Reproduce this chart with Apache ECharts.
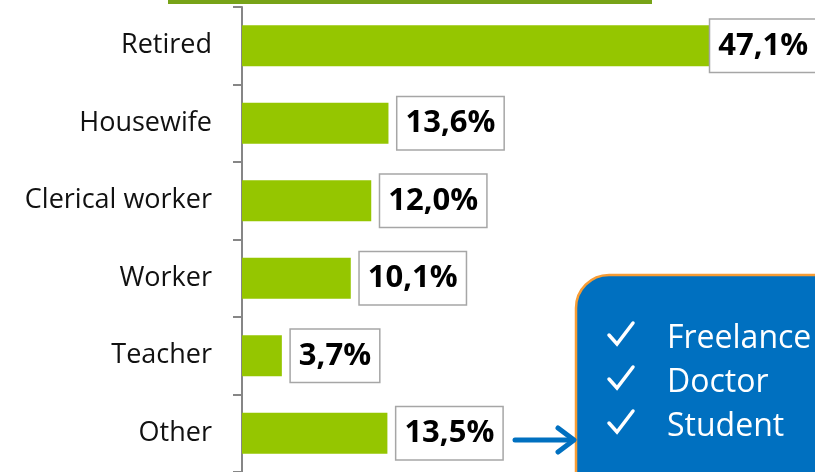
<!DOCTYPE html>
<html>
<head>
<meta charset="utf-8">
<script src="https://cdn.jsdelivr.net/npm/echarts@6/dist/echarts.min.js"></script>
<style>
  html, body { margin: 0; padding: 0; background: #fff; }
  #chart { width: 815px; height: 472px; }
</style>
</head>
<body>
<div id="chart"></div>
<script>
  // occupations, share of respondents (%)
  var categories = ['Retired', 'Housewife', 'Clerical worker', 'Worker', 'Teacher', 'Other'];
  var shares = [47.1, 13.6, 12.0, 10.1, 3.7, 13.5];
  var otherItems = ['Freelance', 'Doctor', 'Student'];

  var barColor = '#95c600';
  var blue = '#0070c0';

  var barData = shares.map(function (v, i) {
    var item = { value: v };
    if (i === 0) {
      // label does not fit outside the longest bar, pulled back over its end
      item.label = { offset: [-48, 0] };
    }
    return item;
  });

  // callout box listing what "Other" includes
  var boxGraphics = [{
    type: 'rect',
    shape: { x: 576, y: 275, width: 320, height: 260, r: 33 },
    style: { fill: blue, stroke: '#f79c34', lineWidth: 2.5 },
    z: 10
  }];
  otherItems.forEach(function (name, i) {
    var y = 339 + i * 44;
    // tick mark
    boxGraphics.push({
      type: 'polyline', z: 11,
      shape: { points: [[609, y - 4], [617, y + 5], [633, y - 16]] },
      style: { stroke: '#fff', lineWidth: 3.5, lineJoin: 'miter', lineCap: 'round', fill: null }
    });
    boxGraphics.push({
      type: 'text', x: 667, y: y, z: 11,
      style: {
        text: name, fill: '#fff', fontFamily: 'Open Sans',
        fontSize: 32, verticalAlign: 'middle'
      }
    });
  });

  var arrowGraphics = [{
    type: 'polyline',
    shape: { points: [[515, 440], [572, 440]] },
    style: { stroke: blue, lineWidth: 5, lineCap: 'round' },
    z: 12
  }, {
    type: 'polyline',
    shape: { points: [[558, 428], [574, 440], [558, 452]] },
    style: { stroke: blue, lineWidth: 5, lineCap: 'round', lineJoin: 'round', fill: null },
    z: 12
  }];

  var option = {
    animation: false,
    grid: { left: 242, top: 7, right: 34.5, height: 470 },
    xAxis: {
      type: 'value',
      min: 0,
      max: 50,
      show: false
    },
    yAxis: {
      type: 'category',
      inverse: true,
      data: categories,
      axisLine: { show: true, lineStyle: { color: '#868686', width: 2 } },
      axisTick: { show: true, length: 9, lineStyle: { color: '#868686', width: 2 } },
      axisLabel: {
        margin: 30,
        fontFamily: 'Open Sans',
        fontSize: 27,
        color: '#111'
      }
    },
    series: [{
      type: 'bar',
      data: barData,
      barWidth: 41,
      itemStyle: { color: barColor },
      label: {
        show: true,
        position: 'right',
        distance: 9,
        formatter: function (p) {
          return p.value.toFixed(1).replace('.', ',') + '%';
        },
        fontFamily: 'Open Sans',
        fontWeight: 'bold',
        fontSize: 31,
        lineHeight: 35,
        color: '#000',
        backgroundColor: '#fff',
        borderColor: '#a6a6a6',
        borderWidth: 1.5,
        padding: [9, 8, 8, 8]
      }
    }],
    graphic: [{
      // strip of the title banner above the plot
      type: 'rect',
      shape: { x: 168, y: 0, width: 484, height: 4 },
      style: { fill: '#77a318' }
    }].concat(boxGraphics, arrowGraphics)
  };

  var chart = echarts.init(document.getElementById('chart'));
  chart.setOption(option);
</script>
</body>
</html>
